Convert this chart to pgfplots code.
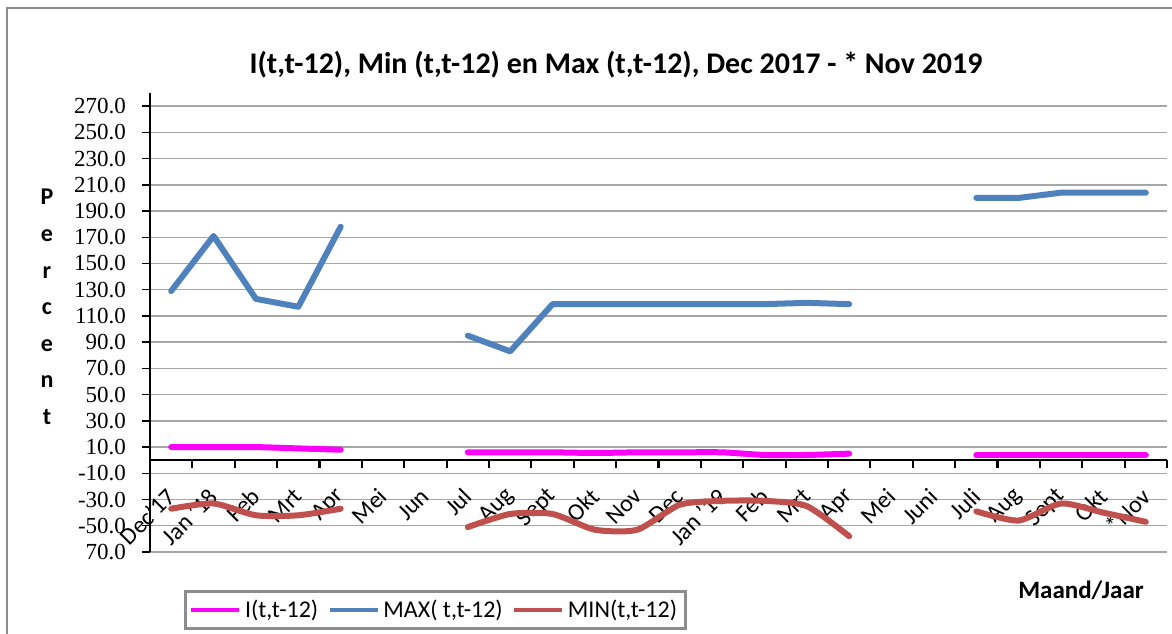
\documentclass[border=0pt]{standalone}
\usepackage{fontspec}
\setmainfont{Carlito}
\newfontfamily\serifnum{Liberation Serif}
\usepackage{pgfplots}
\pgfplotsset{compat=1.18}
\definecolor{cI}{HTML}{FF00FF}
\definecolor{cMax}{HTML}{4F81BD}
\definecolor{cMin}{HTML}{C0504D}
\definecolor{frameg}{HTML}{8C8C8C}
\definecolor{gridg}{HTML}{A6A6A6}
\begin{document}
\begin{tikzpicture}[x=1pt,y=1pt]
\useasboundingbox (0,0) rectangle (586,316.5);
\draw[frameg, line width=1.3pt] (3.5,-2) -- (3.5,312.5) -- (590,312.5);
\begin{axis}[
  at={(75pt,40.5pt)}, anchor=south west,
  scale only axis, width=508.5pt, height=229.5pt,
  xmin=-0.5, xmax=23.5, ymin=-70, ymax=280,
  axis x line=middle, axis y line=left,
  axis line style={-},
  x axis line style={line width=1.2pt, black},
  y axis line style={line width=0.7pt, black},
  tick align=outside,
  major tick length=4pt,
  xtick={-0.5,0.5,...,23.5}, xticklabels={},
  x tick style={line width=1.1pt, black},
  y tick style={line width=0.7pt, black},
  extra x ticks={0,1,...,23},
  extra x tick labels={Dec'17,Jan '18,Feb,Mrt,Apr,Mei,Jun,Jul,Aug,Sept,Okt,Nov,Dec,Jan '19,Feb,Mrt,Apr,Mei,Juni,Juli,Aug,Sept,Okt,*Nov},
  extra x tick style={major tick length=0pt, grid=none,
    tick label style={rotate=45, anchor=east, xshift=-8pt, yshift=-11.5pt, font=\fontsize{12}{14}\selectfont}},
  ytick={-70,-50,...,270},
  yticklabels={70.0,-50.0,-30.0,-10.0,10.0,30.0,50.0,70.0,90.0,110.0,130.0,150.0,170.0,190.0,210.0,230.0,250.0,270.0},
  yticklabel style={font=\serifnum\fontsize{11.5}{12}\selectfont, xshift=-4.5pt},
  ymajorgrids, major grid style={gridg, line width=0.7pt},
  legend style={at={(0.2807,-0.1264)}, anchor=center, legend columns=3,
    draw=frameg, line width=1.5pt, font=\fontsize{12}{13}\selectfont,
    inner sep=2pt, row sep=0pt},
  /tikz/every even column/.append style={column sep=3pt},
  legend image code/.code={\draw[#1, line width=1.6pt, line cap=butt] (0pt,0pt) -- (24pt,0pt);},
  every axis plot/.append style={line width=3pt, line cap=round, line join=round},
]
% I(t,t-12)
\addplot[cI, smooth, tension=0.4] coordinates {(0,10)(1,10)(2,10)(3,9)(4,8)};
\addlegendentry{I(t,t-12)}
% MAX
\addplot[cMax, sharp plot] coordinates {(0,129)(1,171)(2,123)(3,117)(4,178)};
\addlegendentry{MAX( t,t-12)}
% MIN
\addplot[cMin, smooth, tension=0.4] coordinates {(0,-37)(1,-33)(2,-42)(3,-42)(4,-37)};
\addlegendentry{MIN(t,t-12)}
\addplot[cI, smooth, tension=0.4, forget plot] coordinates {(7,6)(8,6)(9,6)(10,5.5)(11,6)(12,6)(13,6)(14,4)(15,4)(16,5)};
\addplot[cI, smooth, tension=0.4, forget plot] coordinates {(19,4)(20,4)(21,4)(22,4)(23,4)};
\addplot[cMax, sharp plot, forget plot] coordinates {(7,95)(8,83)(9,119)(10,119)(11,119)(12,119)(13,119)(14,119)(15,120)(16,119)};
\addplot[cMax, sharp plot, forget plot] coordinates {(19,200)(20,200)(21,204)(22,204)(23,204)};
\addplot[cMin, smooth, tension=0.4, forget plot] coordinates {(7,-51)(8,-41)(9,-41)(10,-53)(11,-53)(12,-34)(13,-31)(14,-31)(15,-35)(16,-58)};
\addplot[cMin, smooth, tension=0.4, forget plot] coordinates {(19,-39)(20,-46)(21,-33)(22,-40)(23,-47)};
\end{axis}
\node[font=\bfseries\fontsize{15}{17}\selectfont] at (308,284) {I(t,t-12), Min (t,t-12) en Max (t,t-12), Dec 2017 - * Nov 2019};
\node[font=\bfseries\fontsize{12}{18.3}\selectfont, align=center] at (23.5,163) {P\\e\\r\\c\\e\\n\\t};
\node[font=\bfseries\fontsize{12.5}{15}\selectfont] at (540.5,21.5) {Maand/Jaar};
\end{tikzpicture}
\end{document}
